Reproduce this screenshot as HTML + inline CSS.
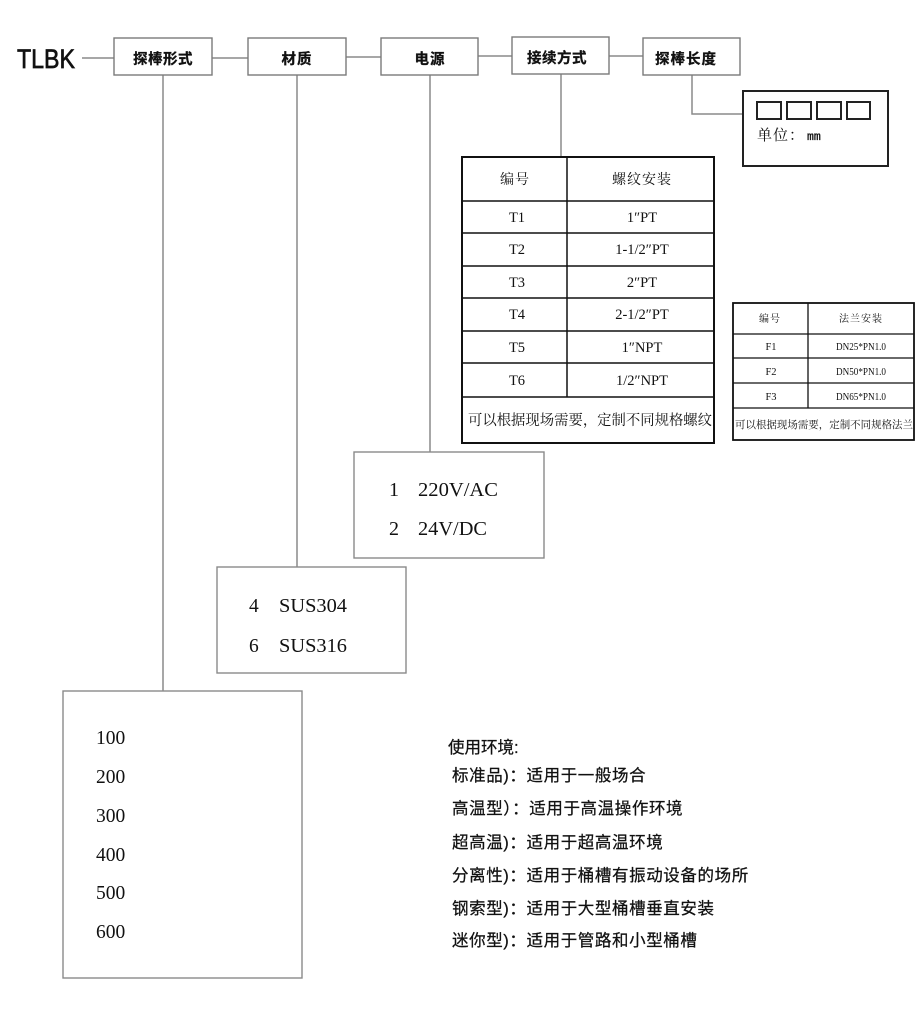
<!DOCTYPE html>
<html><head><meta charset="utf-8"><style>
html,body{margin:0;padding:0;background:#fff;}
svg{display:block;}
.lb{font-family:"Liberation Sans","Noto Sans CJK SC",sans-serif;font-weight:bold;font-size:14.5px;fill:#111;}
.sr{font-family:"Liberation Serif","Noto Serif CJK SC",serif;fill:#111;}
.cs{font-family:"Noto Serif CJK SC",serif;fill:#111;}
.ss{font-family:"Liberation Sans","Noto Sans CJK SC",sans-serif;fill:#111;}
.mo{font-family:"Liberation Mono","Noto Serif CJK SC",monospace;fill:#111;}
</style></head><body>
<svg width="920" height="1013" viewBox="0 0 920 1013" xmlns="http://www.w3.org/2000/svg">
<rect x="0" y="0" width="920" height="1013" fill="#fff"/>
<!-- TLBK -->
<text x="17" y="68" font-family="Liberation Sans, sans-serif" font-size="27" fill="#111" stroke="#111" stroke-width="0.7" textLength="58" lengthAdjust="spacingAndGlyphs">TLBK</text>
<!-- connectors -->
<g stroke="#8a8a8a" stroke-width="1.5" fill="none">
<line x1="82" y1="58" x2="114" y2="58"/>
<line x1="212" y1="58" x2="248" y2="58"/>
<line x1="346" y1="57" x2="381" y2="57"/>
<line x1="478" y1="56" x2="512" y2="56"/>
<line x1="609" y1="56" x2="643" y2="56"/>
<line x1="163" y1="75" x2="163" y2="691"/>
<line x1="297" y1="75" x2="297" y2="567"/>
<line x1="430" y1="75" x2="430" y2="452"/>
<line x1="561" y1="74" x2="561" y2="157"/>
<polyline points="692,75 692,114 743,114"/>
</g>
<!-- top boxes -->
<g stroke="#7a7a7a" stroke-width="1.4" fill="#fff">
<rect x="114" y="38" width="98" height="37"/>
<rect x="248" y="38" width="98" height="37"/>
<rect x="381" y="38" width="97" height="37"/>
<rect x="512" y="37" width="97" height="37"/>
<rect x="643" y="38" width="97" height="37"/>
</g>
<g class="lb" text-anchor="middle" stroke="#111" stroke-width="0.3">
<text x="163" y="64" letter-spacing="0.5">探棒形式</text>
<text x="297" y="64" letter-spacing="1">材质</text>
<text x="430" y="64" letter-spacing="1">电源</text>
<text x="557" y="63" letter-spacing="0.5">接续方式</text>
<text x="686" y="64" letter-spacing="1">探棒长度</text>
</g>
<!-- size box -->
<rect x="743" y="91" width="145" height="75" stroke="#222" stroke-width="2" fill="#fff"/>
<g stroke="#222" stroke-width="2" fill="#fff">
<rect x="757" y="102" width="24" height="17"/>
<rect x="787" y="102" width="24" height="17"/>
<rect x="817" y="102" width="24" height="17"/>
<rect x="847" y="102" width="23" height="17"/>
</g>
<text x="757" y="140" class="cs" font-size="15" letter-spacing="1">单位：</text>
<text x="807" y="140" class="mo" font-size="11.5" stroke="#111" stroke-width="0.3">mm</text>
<!-- thread table -->
<g stroke="#111" fill="none">
<rect x="462" y="157" width="252" height="286" stroke-width="2"/>
<g stroke-width="1.5">
<line x1="462" y1="201" x2="714" y2="201"/>
<line x1="462" y1="233" x2="714" y2="233"/>
<line x1="462" y1="266" x2="714" y2="266"/>
<line x1="462" y1="298" x2="714" y2="298"/>
<line x1="462" y1="331" x2="714" y2="331"/>
<line x1="462" y1="363" x2="714" y2="363"/>
<line x1="462" y1="397" x2="714" y2="397"/>
<line x1="567" y1="157" x2="567" y2="397"/>
</g>
</g>
<g class="cs" font-size="14" text-anchor="middle">
<text x="515" y="184" letter-spacing="1">编号</text>
<text x="642" y="184" letter-spacing="1">螺纹安装</text>
</g>
<g class="sr" font-size="14.5" text-anchor="middle">
<text x="517" y="222">T1</text><text x="642" y="222">1″PT</text>
<text x="517" y="254">T2</text><text x="642" y="254">1-1/2″PT</text>
<text x="517" y="287">T3</text><text x="642" y="287">2″PT</text>
<text x="517" y="319">T4</text><text x="642" y="319">2-1/2″PT</text>
<text x="517" y="352">T5</text><text x="642" y="352">1″NPT</text>
<text x="517" y="385">T6</text><text x="642" y="385">1/2″NPT</text>
</g>
<text x="468" y="425" class="cs" font-size="14.5" textLength="244" lengthAdjust="spacingAndGlyphs">可以根据现场需要，定制不同规格螺纹</text>
<!-- flange table -->
<g stroke="#111" fill="none">
<rect x="733" y="303" width="181" height="137" stroke-width="1.8"/>
<g stroke-width="1.3">
<line x1="733" y1="334" x2="914" y2="334"/>
<line x1="733" y1="358" x2="914" y2="358"/>
<line x1="733" y1="383" x2="914" y2="383"/>
<line x1="733" y1="408" x2="914" y2="408"/>
<line x1="808" y1="303" x2="808" y2="408"/>
</g>
</g>
<g class="cs" font-size="10" text-anchor="middle">
<text x="770" y="322" letter-spacing="1">编号</text>
<text x="861" y="322" letter-spacing="1">法兰安装</text>
</g>
<g class="sr" font-size="10.5" text-anchor="middle">
<text x="771" y="350">F1</text><text x="861" y="350" textLength="50" lengthAdjust="spacingAndGlyphs">DN25*PN1.0</text>
<text x="771" y="375">F2</text><text x="861" y="375" textLength="50" lengthAdjust="spacingAndGlyphs">DN50*PN1.0</text>
<text x="771" y="400">F3</text><text x="861" y="400" textLength="50" lengthAdjust="spacingAndGlyphs">DN65*PN1.0</text>
</g>
<text x="735" y="428" class="cs" font-size="10.5" textLength="178" lengthAdjust="spacingAndGlyphs">可以根据现场需要，定制不同规格法兰</text>
<!-- power box -->
<rect x="354" y="452" width="190" height="106" stroke="#8a8a8a" stroke-width="1.4" fill="#fff"/>
<g class="sr" font-size="20">
<text x="389" y="496">1</text><text x="418" y="496" textLength="80" lengthAdjust="spacingAndGlyphs">220V/AC</text>
<text x="389" y="535">2</text><text x="418" y="535" textLength="69" lengthAdjust="spacingAndGlyphs">24V/DC</text>
</g>
<!-- material box -->
<rect x="217" y="567" width="189" height="106" stroke="#8a8a8a" stroke-width="1.4" fill="#fff"/>
<g class="sr" font-size="19.5">
<text x="249" y="612">4</text><text x="279" y="612" textLength="68" lengthAdjust="spacingAndGlyphs">SUS304</text>
<text x="249" y="652">6</text><text x="279" y="652" textLength="68" lengthAdjust="spacingAndGlyphs">SUS316</text>
</g>
<!-- length box -->
<rect x="63" y="691" width="239" height="287" stroke="#8a8a8a" stroke-width="1.4" fill="#fff"/>
<g class="sr" font-size="19.5">
<text x="96" y="744">100</text>
<text x="96" y="783">200</text>
<text x="96" y="822">300</text>
<text x="96" y="861">400</text>
<text x="96" y="899">500</text>
<text x="96" y="938">600</text>
</g>
<!-- usage -->
<g class="ss" font-size="16.5" stroke="#111" stroke-width="0.25">
<text x="448" y="753">使用环境:</text>
<text x="452" y="781" letter-spacing="0.6">标准品)：适用于一般场合</text>
<text x="452" y="814" letter-spacing="0.6">高温型）：适用于高温操作环境</text>
<text x="452" y="848" letter-spacing="0.6">超高温)：适用于超高温环境</text>
<text x="452" y="881" letter-spacing="0.6">分离性)：适用于桶槽有振动设备的场所</text>
<text x="452" y="914" letter-spacing="0.6">钢索型)：适用于大型桶槽垂直安装</text>
<text x="452" y="946" letter-spacing="0.6">迷你型)：适用于管路和小型桶槽</text>
</g>
</svg>
</body></html>
